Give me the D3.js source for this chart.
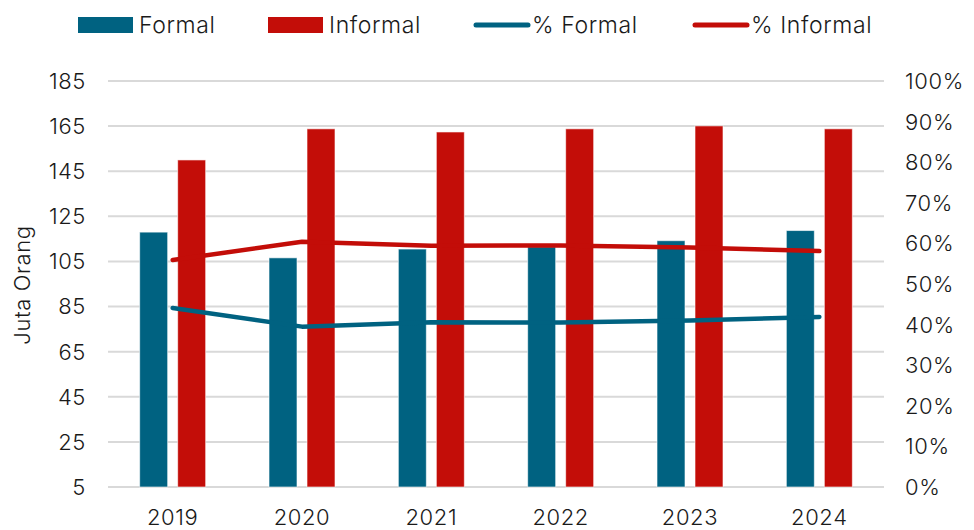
<!DOCTYPE html>
<html><head><meta charset="utf-8">
<script src="https://cdn.jsdelivr.net/npm/d3@7"></script>
<style>body{margin:0;background:#fff}svg{display:block}text{font-family:Inter,"Open Sans",sans-serif;font-weight:300;fill:#1a1a1a;letter-spacing:0.6px}</style>
</head><body><svg id="c" width="974" height="530"></svg>
<script>
const years = ["2019","2020","2021","2022","2023","2024"];
const formal = [118, 106.6, 110.5, 111.5, 114.2, 118.7];
const informal = [150, 163.8, 162.4, 163.8, 165.1, 163.8];
const pctFormal = [44.1, 39.5, 40.6, 40.5, 41.0, 41.9];
const pctInformal = [55.9, 60.4, 59.4, 59.5, 59.0, 58.1];
const leftTicks = [5,25,45,65,85,105,125,145,165,185];
const rightTicks = [0,10,20,30,40,50,60,70,80,90,100];
const legendItems = [
  {label:"Formal", type:"bar", color:"#006281"},
  {label:"Informal", type:"bar", color:"#c30d08"},
  {label:"% Formal", type:"line", color:"#006281"},
  {label:"% Informal", type:"line", color:"#c30d08"}
];
const C_F = "#006281", C_I = "#c30d08";
const svg = d3.select("#c");
const L = 108, R = 884, T = 81, B = 487;
const x = d3.scaleBand().domain(years).range([L, R]);
const y = d3.scaleLinear().domain([5,185]).range([B, T]);
const y2 = d3.scaleLinear().domain([0,100]).range([B, T]);

svg.append("g").selectAll("line").data(leftTicks).join("line")
  .attr("x1", L).attr("x2", R).attr("y1", d=>y(d)).attr("y2", d=>y(d))
  .attr("stroke", "#d9d9d9").attr("stroke-width", 2);

svg.append("g").selectAll("text").data(leftTicks).join("text")
  .attr("x", 86).attr("y", d=>y(d)).attr("dy","0.36em").attr("text-anchor","end")
  .style("font-size","22px").text(d=>d);
svg.append("g").selectAll("text").data(rightTicks).join("text")
  .attr("x", 905).attr("y", d=>y2(d)).attr("dy","0.36em").attr("text-anchor","start")
  .style("font-size","22px").text(d=>d+"%");
svg.append("g").selectAll("text").data(years).join("text")
  .attr("x", d=>x(d)+x.bandwidth()/2).attr("y", 525).attr("text-anchor","middle")
  .style("font-size","22px").text(d=>d);
svg.append("text").attr("transform","translate(30,285) rotate(-90)")
  .attr("text-anchor","middle").style("font-size","22px").text("Juta Orang");

const bw = 28;
const cx = d => x(d) + x.bandwidth()/2;
svg.append("g").selectAll("rect").data(years).join("rect")
  .attr("x", d=>cx(d)-33).attr("width", bw)
  .attr("y", (d,i)=>y(formal[i])).attr("height",(d,i)=>B-y(formal[i]))
  .attr("fill", C_F).attr("stroke","#fff").attr("stroke-opacity",0.6).attr("stroke-width",1);
svg.append("g").selectAll("rect").data(years).join("rect")
  .attr("x", d=>cx(d)+5).attr("width", bw)
  .attr("y", (d,i)=>y(informal[i])).attr("height",(d,i)=>B-y(informal[i]))
  .attr("fill", C_I).attr("stroke","#fff").attr("stroke-opacity",0.6).attr("stroke-width",1);

const line = arr => d3.line().x((d,i)=>cx(years[i])).y(d=>y2(d))(arr);
svg.append("path").attr("d", line(pctInformal)).attr("fill","none").attr("stroke",C_I)
  .attr("stroke-width",4.5).attr("stroke-linecap","round").attr("stroke-linejoin","round");
svg.append("path").attr("d", line(pctFormal)).attr("fill","none").attr("stroke",C_F)
  .attr("stroke-width",4.5).attr("stroke-linecap","round").attr("stroke-linejoin","round");

const lx = [78, 268, 474, 693];
const lg = svg.append("g");
legendItems.forEach((it,i)=>{
  const g = lg.append("g").attr("transform",`translate(${lx[i]},25)`);
  if (it.type==="bar") {
    g.append("rect").attr("x",0).attr("y",-8).attr("width",55).attr("height",16).attr("fill",it.color);
    g.append("text").attr("x",61).attr("y",0).attr("dy","0.36em").style("font-size","23px").text(it.label);
  } else {
    g.append("line").attr("x1",2).attr("x2",54).attr("y1",0).attr("y2",0).attr("stroke",it.color)
      .attr("stroke-width",5).attr("stroke-linecap","round");
    g.append("text").attr("x",58).attr("y",0).attr("dy","0.36em").style("font-size","23px").text(it.label);
  }
});
</script></body></html>
